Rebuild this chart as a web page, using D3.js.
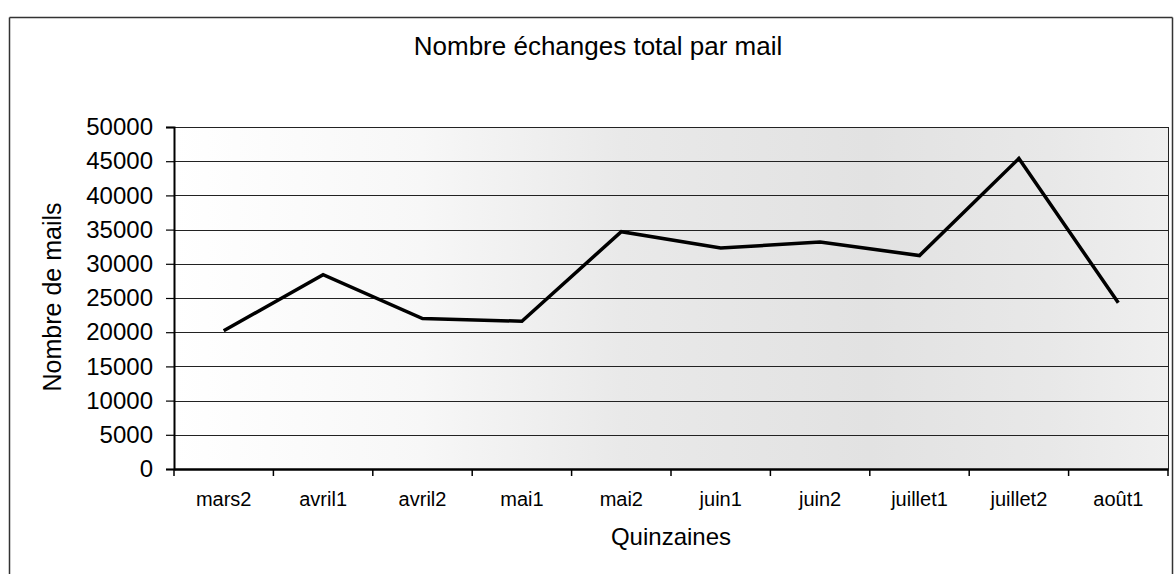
<!DOCTYPE html>
<html>
<head>
<meta charset="utf-8">
<script src="https://cdn.jsdelivr.net/npm/d3@7"></script>
<style>
  body { margin: 0; background: #fff; }
  svg { display: block; }
  svg text { font-family: "Liberation Sans", Arial, sans-serif; fill: #000; }
</style>
</head>
<body>
<svg id="chart" width="1176" height="574"></svg>
<script>
const categories = ["mars2", "avril1", "avril2", "mai1", "mai2", "juin1", "juin2", "juillet1", "juillet2", "août1"]
const mails = [20200, 28400, 22000, 21600, 34700, 32300, 33200, 31200, 45400, 24300]
const yTicks = [0, 5000, 10000, 15000, 20000, 25000, 30000, 35000, 40000, 45000, 50000]

const title = "Nombre échanges total par mail"
const xTitle = "Quinzaines"
const yTitle = "Nombre de mails"

const margin = { top: 127, right: 8, bottom: 105, left: 174 }
const innerWidth = 1168 - margin.left
const innerHeight = 469 - margin.top

const svg = d3.select("#chart")

// outer frame, open at the bottom like the scan
const frame = [
  [9.5, 574, 9.5, 17.5],
  [9.5, 17.5, 1172.5, 17.5],
  [1172.5, 17.5, 1172.5, 574],
]
svg.selectAll(".frame")
  .data(frame)
  .enter()
  .append("line")
  .attr("class", "frame")
  .attr("x1", (d) => d[0])
  .attr("y1", (d) => d[1])
  .attr("x2", (d) => d[2])
  .attr("y2", (d) => d[3])
  .attr("stroke", "#333")
  .attr("stroke-width", 1.5)

// shading that stands in for the scanned grey speckle
const defs = svg.append("defs")
const grad = defs.append("linearGradient").attr("id", "speckle")
grad.selectAll("stop")
  .data([[0, "#ffffff"], [0.25, "#f7f7f7"], [0.45, "#e9e9e9"], [0.7, "#e2e2e2"], [0.88, "#e8e8e8"], [1, "#efefef"]])
  .enter()
  .append("stop")
  .attr("offset", (d) => d[0])
  .attr("stop-color", (d) => d[1])

const g = svg.append("g")
  .attr("transform", `translate(${margin.left},${margin.top})`)

const x = d3.scaleBand().domain(categories).range([0, innerWidth])
const y = d3.scaleLinear().domain([0, 50000]).range([innerHeight, 0])

g.append("rect")
  .attr("width", innerWidth)
  .attr("height", innerHeight)
  .attr("fill", "url(#speckle)")

// gridlines
g.selectAll(".grid")
  .data(yTicks.filter((d) => d > 0))
  .enter()
  .append("line")
  .attr("class", "grid")
  .attr("x1", 0)
  .attr("x2", innerWidth)
  .attr("y1", (d) => Math.round(y(d)) + 0.5)
  .attr("y2", (d) => Math.round(y(d)) + 0.5)
  .attr("stroke", "#222")
  .attr("stroke-width", 1)

// right edge of plot
g.append("line")
  .attr("x1", innerWidth + 0.5)
  .attr("x2", innerWidth + 0.5)
  .attr("y1", 0)
  .attr("y2", innerHeight)
  .attr("stroke", "#222")

// y axis
const yAxis = g.append("g")
  .call(d3.axisLeft(y).tickValues(yTicks).tickSize(8).tickPadding(13).tickFormat((d) => d))
yAxis.attr("font-family", null).attr("font-size", 24)
yAxis.select(".domain").attr("stroke", "#000").attr("stroke-width", 2)
yAxis.selectAll(".tick line").attr("stroke", "#000").attr("stroke-width", 1.2)

// x axis with ticks on band boundaries
const xAxis = g.append("g")
  .attr("transform", `translate(0,${innerHeight})`)
  .call(d3.axisBottom(x).tickSize(0).tickPadding(23))
xAxis.attr("font-family", null).attr("font-size", 20)
xAxis.select(".domain").attr("stroke", "#000").attr("stroke-width", 2.5)

xAxis.selectAll(".band-tick")
  .data(categories.map((c) => x(c)).concat([innerWidth]))
  .enter()
  .append("line")
  .attr("class", "band-tick")
  .attr("x1", (d) => d)
  .attr("x2", (d) => d)
  .attr("y1", 0)
  .attr("y2", 7)
  .attr("stroke", "#000")
  .attr("stroke-width", 1.5)

// the series line
const line = d3.line()
  .x((d, i) => x(categories[i]) + x.bandwidth() / 2)
  .y((d) => y(d))

g.append("path")
  .datum(mails)
  .attr("d", line)
  .attr("fill", "none")
  .attr("stroke", "#000")
  .attr("stroke-width", 3.5)

// titles
svg.append("text")
  .attr("x", 598)
  .attr("y", 55)
  .attr("text-anchor", "middle")
  .attr("font-size", 26)
  .text(title)

svg.append("text")
  .attr("x", margin.left + innerWidth / 2)
  .attr("y", 545)
  .attr("text-anchor", "middle")
  .attr("font-size", 24)
  .text(xTitle)

svg.append("text")
  .attr("transform", "translate(61,297) rotate(-90)")
  .attr("text-anchor", "middle")
  .attr("font-size", 25)
  .text(yTitle)
</script>
</body>
</html>
